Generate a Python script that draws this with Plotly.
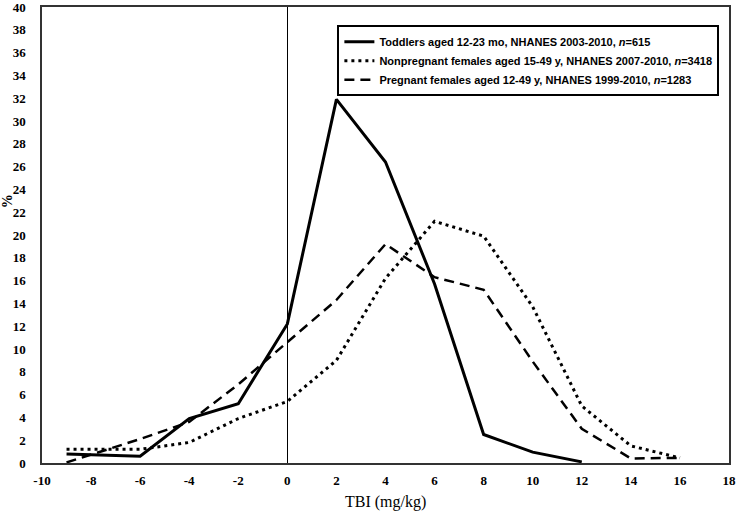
import plotly.graph_objects as go

# TBI bins (mg/kg)
x_toddlers = [-9, -6, -4, -2, 0, 2, 4, 6, 8, 10, 12]
y_toddlers = [0.8, 0.6, 3.9, 5.2, 12.2, 31.9, 26.4, 15.7, 2.5, 0.95, 0.1]

x_nonpreg = [-9, -6, -4, -2, 0, 2, 4, 6, 8, 10, 12, 14, 16]
y_nonpreg = [1.2, 1.2, 1.8, 3.9, 5.4, 9.0, 16.2, 21.2, 19.9, 13.7, 5.0, 1.5, 0.45]

x_preg = [-9, -6, -4, -2, 0, 2, 4, 6, 8, 10, 12, 14, 16]
y_preg = [0.05, 2.1, 3.6, 6.9, 10.6, 14.3, 19.2, 16.3, 15.2, 8.9, 3.0, 0.4, 0.45]

name_toddlers = "<b>Toddlers aged 12-23 mo, NHANES 2003-2010, <i>n</i>=615</b>"
name_nonpreg = "<b>Nonpregnant females aged 15-49 y, NHANES 2007-2010, <i>n</i>=3418</b>"
name_preg = "<b>Pregnant females aged 12-49 y, NHANES 1999-2010, <i>n</i>=1283</b>"

x_ticks = list(range(-10, 19, 2))
y_ticks = list(range(0, 41, 2))

SERIF = "Liberation Serif"

fig = go.Figure()
fig.add_trace(go.Scatter(x=x_toddlers, y=y_toddlers, mode="lines", name=name_toddlers,
                         line=dict(color="black", width=3)))
fig.add_trace(go.Scatter(x=x_nonpreg, y=y_nonpreg, mode="lines", name=name_nonpreg,
                         line=dict(color="black", width=3, dash="3px,4px")))
fig.add_trace(go.Scatter(x=x_preg, y=y_preg, mode="lines", name=name_preg,
                         line=dict(color="black", width=2.5, dash="10px,6px")))

fig.update_layout(
    width=736, height=515,
    margin=dict(l=42, r=7, t=7, b=52, autoexpand=False),
    paper_bgcolor="white", plot_bgcolor="white",
    showlegend=True,
    legend=dict(x=0.986, xanchor="right", y=0.96, yanchor="top",
                bordercolor="black", borderwidth=2, bgcolor="white",
                font=dict(family="Liberation Sans", size=11, color="black"),
                tracegroupgap=0, itemwidth=30),
    xaxis=dict(range=[-10, 18], tickmode="array", tickvals=x_ticks,
               ticktext=["<b>%d</b>" % v for v in x_ticks], automargin=False,
               ticklabeloverflow="allow", ticklabelstandoff=5,
               showgrid=False, zeroline=True, zerolinecolor="black", zerolinewidth=1,
               showline=True, linecolor="#333", linewidth=1.5, mirror=True,
               ticks="", tickfont=dict(family=SERIF, size=13, color="black")),
    yaxis=dict(range=[0, 40], tickmode="array", tickvals=y_ticks,
               ticktext=["<b>%d</b>" % v for v in y_ticks], automargin=False,
               ticklabeloverflow="allow", ticklabelstandoff=12,
               showgrid=False, zeroline=False,
               showline=True, linecolor="#333", linewidth=1.5, mirror=True,
               ticks="", tickfont=dict(family=SERIF, size=13, color="black")),
    annotations=[
        dict(text="TBI (mg/kg)", xref="paper", yref="paper", x=0.5, y=-0.085,
             xanchor="center", yanchor="middle", showarrow=False,
             font=dict(family=SERIF, size=16, color="black")),
        dict(text="<b>%</b>", xref="paper", yref="paper", x=-0.051, y=0.574,
             xanchor="center", yanchor="middle", showarrow=False, textangle=-90,
             font=dict(family=SERIF, size=14, color="black")),
    ],
)

fig.write_html("out.html", config={"displayModeBar": False},
               post_script="document.body.style.margin='0';document.body.style.overflow='hidden';")
